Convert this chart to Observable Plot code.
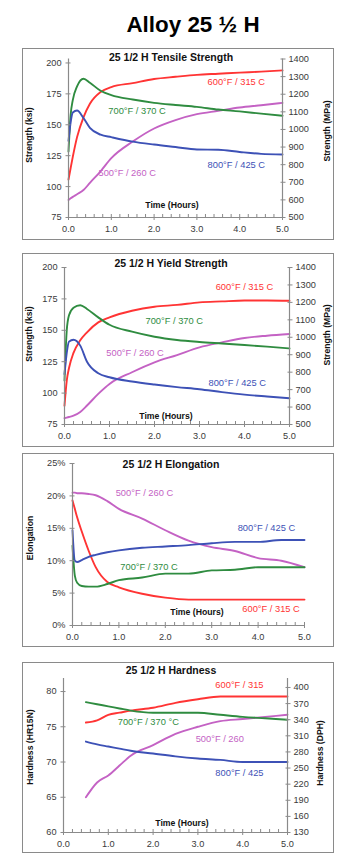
<!DOCTYPE html>
<html><head><meta charset="utf-8">
<script src="https://cdn.jsdelivr.net/npm/d3@7"></script>
<script src="https://cdn.jsdelivr.net/npm/@observablehq/plot@0.6"></script>
<style>
body{margin:0;background:#fff;font-family:"Liberation Sans",Arial,sans-serif;}
#root{position:relative;width:351px;height:862px;overflow:hidden;background:#fff;}
.abs{position:absolute;white-space:nowrap;line-height:1;}
.box{position:absolute;border:1.5px solid #8a8a8a;box-sizing:border-box;pointer-events:none;}
svg{position:absolute;}
</style></head><body><div id="root"></div>
<script>
// ---------- DATA ----------
const timeGrid = [0, 0.05, 0.1, 0.2, 0.35, 0.5, 0.75, 1, 1.5, 2, 2.5, 3, 3.5, 4, 4.5, 5];
const tensile500 = [89.2, 90.5, 91.7, 93.8, 97.2, 103, 112.4, 123, 136.4, 147, 153.8, 158.6, 161.3, 164, 165.8, 167.7];
const tensile600 = [105.7, 115, 124, 140, 156, 167, 176.5, 180.5, 183.7, 187, 188.8, 190.4, 191.3, 192.2, 193, 194];
const tensile700 = [128.4, 158, 170, 181, 187.2, 184, 177.5, 174, 170.4, 167.7, 166, 164.5, 162.3, 160.8, 159, 157.3];
const tensile800 = [137, 152, 160, 161.5, 155.5, 147.5, 142, 140, 136.4, 134, 132, 130, 129.8, 128, 126.5, 126];

const yield500 = [80, 80.5, 81, 82, 85, 90.1, 99.4, 107.3, 116.6, 124.5, 130.3, 136.4, 140.4, 143.9, 145.7, 147];
const yield600 = [90, 110, 120, 132, 142, 148.4, 156.3, 160.3, 165.6, 168.8, 170.2, 172.2, 173, 173.7, 173.7, 173.5];
const yield700 = [110, 150, 162, 168, 170, 167, 160.3, 154.4, 148.9, 144.9, 142.3, 140.7, 139.5, 138.3, 137, 135.6];
const yield800 = [115, 132, 141, 142.5, 137.8, 125, 115.8, 112.6, 109.2, 106.8, 104.8, 103.1, 100.8, 98.8, 97.3, 95.9];

const elong500 = [20.5, 20.5, 20.4, 20.4, 20.3, 20.1, 19.2, 18.0, 16.5, 14.7, 13.1, 12.1, 11.5, 10.4, 10.0, 9.0];
const elong600 = [19.3, 18.0, 16.7, 14.5, 11.5, 9.0, 6.7, 5.9, 4.9, 4.3, 4.0, 4.0, 4.0, 4.0, 4.0, 4.0];
const elong700 = [12.3, 7.7, 6.6, 6.1, 6.0, 6.0, 6.4, 7.0, 7.4, 8.0, 8.0, 8.5, 8.6, 9.0, 9.0, 9.0];
const elong800 = [14.7, 10.0, 9.8, 10.1, 10.6, 10.9, 11.3, 11.6, 12.0, 12.2, 12.4, 12.7, 12.9, 12.9, 13.2, 13.2];

const hardTime = [0.5, 0.75, 1, 1.25, 1.5, 2, 2.5, 3, 3.5, 4, 4.5, 5];
const hard500 = [65.0, 67.1, 68.1, 69.5, 70.9, 72.4, 74.0, 75.0, 75.8, 76.1, 76.4, 76.7];
const hard600 = [75.6, 75.9, 76.7, 77.0, 77.3, 77.7, 78.4, 78.9, 79.3, 79.3, 79.3, 79.3];
const hard700 = [78.5, 78.2, 77.9, 77.6, 77.3, 77.0, 77.0, 77.0, 76.7, 76.4, 76.2, 76.0];
const hard800 = [72.9, 72.5, 72.2, 71.9, 71.6, 71.2, 70.8, 70.5, 70.3, 70.0, 70.0, 70.0];

const seriesNames = ["500°F / 260 C", "600°F / 315 C", "700°F / 370 C", "800°F / 425 C"];
const hardNames = ["500°F / 260", "600°F / 315", "700°F / 370 °C", "800°F / 425"];
const timeTicks = [0, 1, 2, 3, 4, 5];
const ksiTicks = [75, 100, 125, 150, 175, 200];
const mpaTicks = [500, 600, 700, 800, 900, 1000, 1100, 1200, 1300, 1400];
const elongTicks = [0, 5, 10, 15, 20, 25];
const hrTicks = [60, 65, 70, 75, 80];
const dphTicks = [130, 160, 190, 220, 250, 280, 310, 340, 370, 400];

// ---------- STYLE ----------
const colors = ["#c462c4", "#ff3434", "#2f8c40", "#3d51b6"];
const axisColor = "#8a8a8a";
const tickText = "#3a3a3a";
const root = document.getElementById("root");

function addText(txt, cx, cy, {size = 9, bold = true, rotate = 0, color = "#111"} = {}) {
  const d = document.createElement("div");
  d.className = "abs";
  d.textContent = txt;
  d.style.left = cx + "px";
  d.style.top = cy + "px";
  d.style.fontSize = size + "px";
  d.style.fontWeight = bold ? "bold" : "normal";
  d.style.color = color;
  d.style.transform = `translate(-50%,-50%)` + (rotate ? ` rotate(${rotate}deg)` : "");
  root.appendChild(d);
}

function panel(cfg) {
  const [bx, by, bw, bh] = cfg.box;
  const marginLeft = cfg.x0 - bx, marginRight = bx + bw - cfg.x5;
  const marginTop = cfg.yTop - by, marginBottom = by + bh - cfg.yBottom;
  const [d0, d1] = cfg.yDomain;
  const minor = d3.range(0, 5.0001, 0.2).filter(v => Math.abs(v - Math.round(v)) > 1e-6);
  const marks = [];
  cfg.series.forEach((vals, i) => {
    const rows = cfg.time.map((t, j) => ({t, v: vals[j]}));
    marks.push(Plot.line(rows, {x: "t", y: "v", stroke: colors[i], strokeWidth: 1.9, curve: "monotone-x"}));
  });
  marks.push(
    Plot.ruleX([0], {stroke: axisColor, strokeWidth: 1.2}),
    Plot.ruleY([d0], {stroke: axisColor, strokeWidth: 1.2}),
    Plot.axisY({anchor: "left", ticks: cfg.leftTicks, tickSize: 5, dx: 2.5, fill: "none", stroke: axisColor, label: null}),
    Plot.axisY({anchor: "left", ticks: cfg.leftTicks, tickSize: 0, tickPadding: 7, tickFormat: cfg.leftFmt || (d => String(d)), stroke: "none", fill: tickText, label: null}),
    Plot.axisX({anchor: "bottom", ticks: timeTicks, tickSize: 6, dy: -3, fill: "none", stroke: axisColor, label: null}),
    Plot.axisX({anchor: "bottom", ticks: minor, tickSize: 3, dy: -3, fill: "none", stroke: axisColor, label: null}),
    Plot.axisX({anchor: "bottom", ticks: timeTicks, tickSize: 0, tickPadding: 8, tickFormat: d => d.toFixed(1), stroke: "none", fill: tickText, label: null})
  );
  if (cfg.right) {
    const [r0, r1] = cfg.right.range;
    const toLeft = m => d0 + (m - r0) * (d1 - d0) / (r1 - r0);
    const toRight = v => String(Math.round(r0 + (v - d0) * (r1 - r0) / (d1 - d0)));
    const rt = cfg.right.ticks.map(toLeft);
    marks.push(
      Plot.ruleX([5], {stroke: axisColor, strokeWidth: 1.2}),
      Plot.axisY({anchor: "right", ticks: rt, tickSize: 5, dx: -2.5, fill: "none", stroke: axisColor, label: null}),
      Plot.axisY({anchor: "right", ticks: rt, tickSize: 0, tickPadding: 6, tickFormat: toRight, stroke: "none", fill: tickText, label: null})
    );
  }
  cfg.labels.forEach((l, i) => {
    marks.push(Plot.text([l], {x: "x", y: "y", text: () => cfg.names[i], fill: colors[i], textAnchor: "start", fontSize: 9.3}));
  });
  const svg = Plot.plot({
    width: bw, height: bh, marginLeft, marginRight, marginTop, marginBottom,
    x: {domain: [0, 5]}, y: {domain: cfg.yDomain},
    style: {fontFamily: "Liberation Sans, Arial, sans-serif", fontSize: "9.2px", background: "transparent", overflow: "visible"},
    marks
  });
  svg.style.left = bx + "px";
  svg.style.top = by + "px";
  root.appendChild(svg);
  const box = document.createElement("div");
  box.className = "box";
  Object.assign(box.style, {left: bx + "px", top: by + "px", width: bw + "px", height: bh + "px"});
  root.appendChild(box);
  const t = cfg.titles;
  addText(t.title, t.titlePos[0], t.titlePos[1], {size: 10.5});
  addText("Time (Hours)", t.timePos[0], t.timePos[1], {size: 8.7});
  addText(t.left, t.leftPos[0], t.leftPos[1], {size: 8.6, rotate: -90});
  if (t.right) addText(t.right, t.rightPos[0], t.rightPos[1], {size: 8.6, rotate: -90});
}

addText("Alloy 25 ½ H", 193, 25, {size: 22.4, color: "#000"});

panel({
  box: [22, 48, 312, 192], x0: 68, x5: 282, yTop: 58.5, yBottom: 217,
  yDomain: [75, 203.2], leftTicks: ksiTicks,
  right: {range: [500, 1400], ticks: mpaTicks},
  time: timeGrid, series: [tensile500, tensile600, tensile700, tensile800], names: seriesNames,
  labels: [{x: 0.70, y: 110.6}, {x: 3.25, y: 184.2}, {x: 0.93, y: 160.8}, {x: 3.25, y: 117.1}],
  titles: {title: "25 1/2 H Tensile Strength", titlePos: [171, 56.5], timePos: [172, 205],
    left: "Strength (ksi)", leftPos: [29, 135], right: "Strength (MPa)", rightPos: [326.5, 131]}
});

panel({
  box: [22, 253, 312, 194], x0: 64, x5: 289, yTop: 267, yBottom: 424,
  yDomain: [75, 200], leftTicks: ksiTicks,
  right: {range: [500, 1400], ticks: mpaTicks},
  time: timeGrid, series: [yield500, yield600, yield700, yield800], names: seriesNames,
  labels: [{x: 0.93, y: 132.3}, {x: 3.36, y: 184.1}, {x: 1.80, y: 157}, {x: 3.2, y: 108.4}],
  titles: {title: "25 1/2 H Yield Strength", titlePos: [171, 263], timePos: [166, 416],
    left: "Strength (ksi)", leftPos: [28.5, 334], right: "Strength (MPa)", rightPos: [326.5, 335]}
});

panel({
  box: [22, 453, 312, 194], x0: 72, x5: 304, yTop: 463, yBottom: 625,
  yDomain: [0, 25], leftTicks: elongTicks, leftFmt: d => d + "%",
  time: timeGrid, series: [elong500, elong600, elong700, elong800], names: seriesNames,
  labels: [{x: 0.93, y: 20.4}, {x: 3.66, y: 2.47}, {x: 1.03, y: 8.95}, {x: 3.56, y: 15.0}],
  titles: {title: "25 1/2 H Elongation", titlePos: [171, 464], timePos: [197, 612],
    left: "Elongation", leftPos: [29.5, 538]}
});

panel({
  box: [22, 662, 312, 191], x0: 63, x5: 287, yTop: 678, yBottom: 832,
  yDomain: [60, 81.85], leftTicks: hrTicks,
  right: {range: [130, 416.7], ticks: dphTicks},
  time: hardTime, series: [hard500, hard600, hard700, hard800], names: hardNames,
  labels: [{x: 2.95, y: 73.25}, {x: 3.39, y: 80.95}, {x: 1.21, y: 75.68}, {x: 3.39, y: 68.4}],
  titles: {title: "25 1/2 H Hardness", titlePos: [171, 670], timePos: [182, 823],
    left: "Hardness (HR15N)", leftPos: [29.5, 747], right: "Hardness (DPH)", rightPos: [319.5, 753]}
});
</script></body></html>
